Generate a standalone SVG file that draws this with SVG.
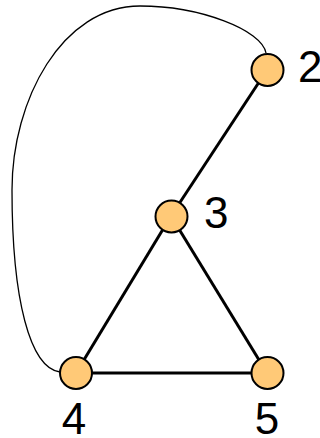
<svg xmlns="http://www.w3.org/2000/svg" width="320" height="438" viewBox="0 0 320 438">
<style>
.e{stroke:#000;stroke-width:3;fill:none}
.c{stroke:#000;stroke-width:1.3;fill:none}
.n{fill:#ffc977;stroke:#000;stroke-width:2}
.t{font-family:"Liberation Sans",Arial,sans-serif;font-size:44px;fill:#000}
</style>
<rect width="320" height="438" fill="#fff"/>
<g id="edges">
<path class="c" d="M 266 53 C 262 30, 200 6, 140 6 C 62 6, 12 100, 12 190 C 12 300, 30 368, 60 372"/>
<line class="e" x1="267" y1="70" x2="171" y2="216"/>
<line class="e" x1="171" y1="216" x2="76" y2="373"/>
<line class="e" x1="171" y1="216" x2="267" y2="373"/>
<line class="e" x1="76" y1="373" x2="267" y2="373"/>
</g>
<g id="n2"><circle class="n" cx="267.5" cy="70" r="16"/><text class="t" x="298" y="82">2</text></g>
<g id="n3"><circle class="n" cx="171.5" cy="216.5" r="16"/><text class="t" x="204" y="228">3</text></g>
<g id="n4"><circle class="n" cx="76" cy="373" r="16"/><text class="t" x="74" y="434" text-anchor="middle">4</text></g>
<g id="n5"><circle class="n" cx="267.5" cy="373" r="16"/><text class="t" x="267" y="434" text-anchor="middle">5</text></g>
</svg>
